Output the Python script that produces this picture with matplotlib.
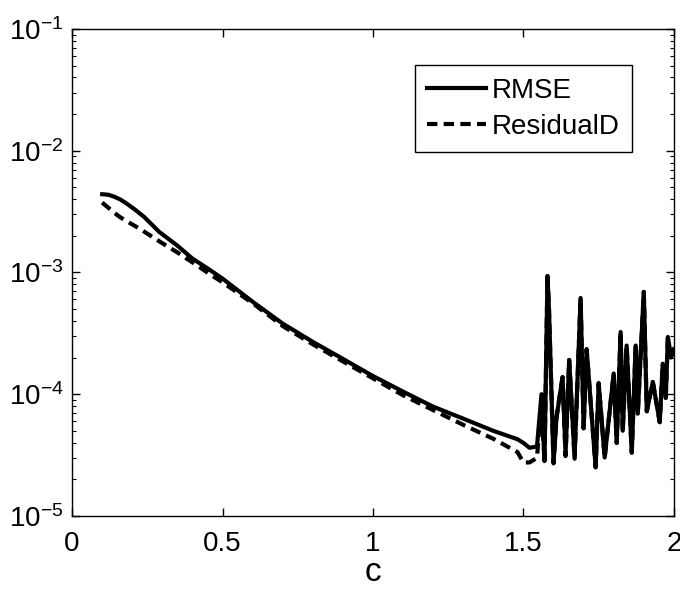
import matplotlib.pyplot as plt
import numpy as np

plt.rcParams['font.family'] = ['Liberation Sans', 'DejaVu Sans']
plt.rcParams['mathtext.default'] = 'regular'

# data
c_vals = [0.10, 0.12, 0.14, 0.16, 0.18, 0.21, 0.24, 0.29, 0.35, 0.40, 0.46,
          0.50, 0.60, 0.70,
          0.80, 0.90, 1.00, 1.10, 1.20, 1.30, 1.40, 1.48, 1.50, 1.52, 1.545,
          1.56, 1.57, 1.58, 1.585, 1.60, 1.61, 1.63, 1.64, 1.652, 1.67, 1.69,
          1.70, 1.71, 1.74, 1.75, 1.77, 1.80, 1.81, 1.823, 1.83, 1.843, 1.86,
          1.873, 1.88, 1.90, 1.91, 1.93, 1.953, 1.963, 1.973, 1.98, 1.99, 2.00]
rmse = [4.39e-3, 4.35e-3, 4.19e-3, 3.98e-3, 3.70e-3, 3.27e-3, 2.85e-3,
        2.15e-3, 1.66e-3, 1.30e-3,
        1.04e-3, 8.9e-4, 5.75e-4, 3.80e-4, 2.69e-4, 1.95e-4, 1.41e-4,
        1.05e-4, 7.9e-5, 6.3e-5, 5.0e-5, 4.27e-5, 3.98e-5, 3.63e-5, 3.72e-5,
        1.0e-4, 2.82e-5, 9.33e-4, 4.9e-4, 2.75e-5, 6.46e-5, 1.38e-4, 3.24e-5,
        1.91e-4, 3.09e-5, 6.17e-4, 5.25e-5, 2.34e-4, 2.51e-5, 1.23e-4,
        3.02e-5, 1.48e-4, 3.98e-5, 3.24e-4, 5.01e-5, 2.51e-4, 3.31e-5,
        2.51e-4, 6.92e-5, 6.92e-4, 7.24e-5, 1.26e-4, 5.89e-5, 1.78e-4,
        9.33e-5, 2.95e-4, 2.0e-4, 2.34e-4]
resid = [3.75e-3, 3.41e-3, 3.09e-3, 2.84e-3, 2.65e-3, 2.40e-3, 2.16e-3,
         1.80e-3, 1.46e-3, 1.21e-3,
         9.6e-4, 8.3e-4, 5.6e-4, 3.63e-4, 2.57e-4, 1.86e-4, 1.35e-4,
         9.8e-5, 7.4e-5, 5.6e-5, 4.3e-5, 3.35e-5, 2.75e-5, 2.75e-5, 3.0e-5,
         8.9e-5, 2.75e-5, 9.33e-4, 4.9e-4, 2.7e-5, 6.46e-5, 1.38e-4, 3.1e-5,
         1.91e-4, 2.95e-5, 6.17e-4, 5.25e-5, 2.34e-4, 2.51e-5, 1.23e-4,
         3.02e-5, 1.48e-4, 3.98e-5, 3.24e-4, 5.01e-5, 2.51e-4, 3.31e-5,
         2.51e-4, 6.92e-5, 6.92e-4, 7.24e-5, 1.26e-4, 5.89e-5, 1.78e-4,
         9.33e-5, 2.95e-4, 2.0e-4, 2.34e-4]
xticks = [0, 0.5, 1, 1.5, 2]
xticklabels = ['0', '0.5', '1', '1.5', '2']

fig = plt.figure(figsize=(6.8, 5.91), dpi=100)
ax = fig.add_axes([0.106, 0.127, 0.885, 0.824])

ax.semilogy(c_vals, rmse, 'k-', lw=3, label='RMSE')
ax.semilogy(c_vals, resid, 'k--', lw=3, dashes=(2.5, 1.5), label='ResidualD')

ax.set_xlim(0, 2)
ax.set_ylim(1e-5, 1e-1)
ax.set_xticks(xticks)
ax.set_xticklabels(xticklabels)
ax.set_xlabel('c', fontsize=24, labelpad=0)

ax.tick_params(which='both', direction='in', top=True, right=True, labelsize=20)
ax.tick_params(which='major', length=6, width=1)
ax.tick_params(which='minor', length=3, width=0.8)
ax.tick_params(axis='x', pad=11)
ax.tick_params(axis='y', pad=6)
for s in ax.spines.values():
    s.set_linewidth(1)

leg = ax.legend(loc='upper right', bbox_to_anchor=(0.93, 0.925), fontsize=20,
                frameon=True, fancybox=False, edgecolor='k', framealpha=1,
                handlelength=2.1, handletextpad=0.2, borderpad=0.45,
                labelspacing=0.35, borderaxespad=0)
leg.get_frame().set_linewidth(1)

plt.savefig('out.png', dpi=100)
